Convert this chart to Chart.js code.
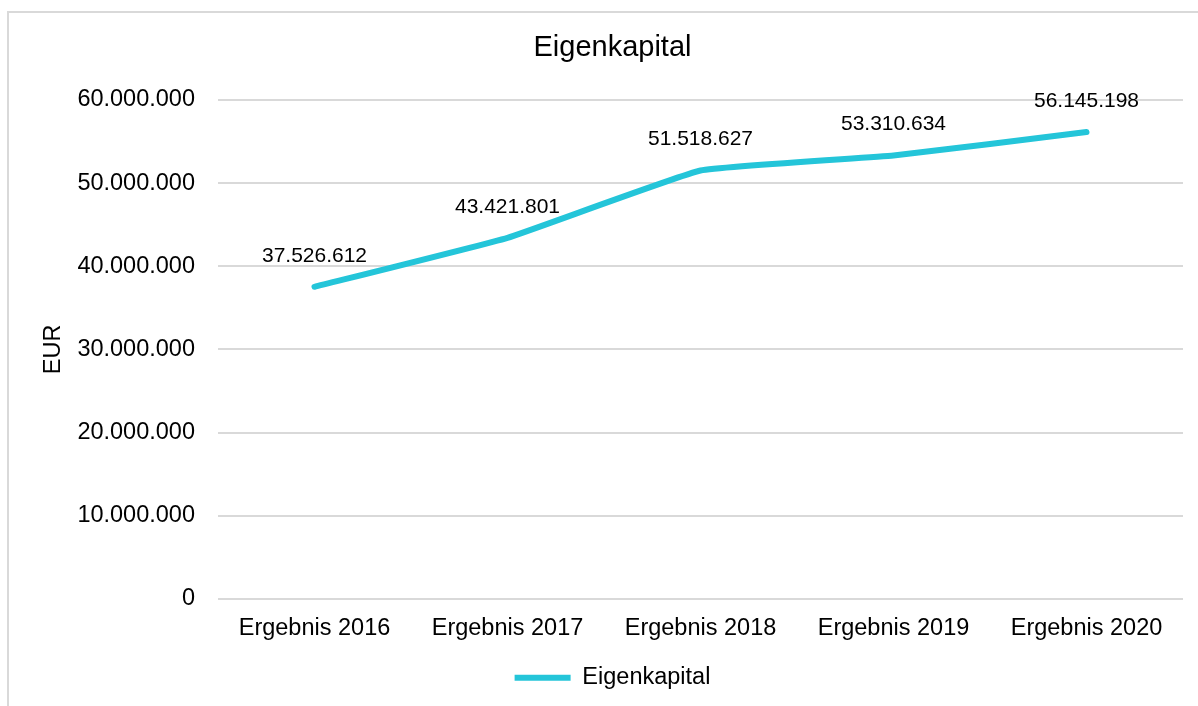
<!DOCTYPE html>
<html lang="de">
<head>
<meta charset="utf-8">
<title>Eigenkapital</title>
<script src="https://cdn.jsdelivr.net/npm/chart.js@4.4.1/dist/chart.umd.min.js"></script>
<style>
  html, body { margin: 0; padding: 0; background: #ffffff; overflow: hidden; width: 1198px; height: 706px; }
  #frame { position: absolute; left: 7px; top: 11px; width: 1300px; height: 800px; border: 2px solid #d9d9d9; box-sizing: border-box; }
  #chart { position: absolute; left: 42px; top: 0; }
</style>
</head>
<body>
<div id="frame"></div>
<canvas id="chart" width="1141" height="706"></canvas>
<script>
// Eigenkapital je Geschäftsjahr (EUR)
const categories = ['Ergebnis 2016', 'Ergebnis 2017', 'Ergebnis 2018', 'Ergebnis 2019', 'Ergebnis 2020'];
const eigenkapital = [37526612, 43421801, 51518627, 53310634, 56145198];
const yTickValues = [0, 10000000, 20000000, 30000000, 40000000, 50000000, 60000000];

const FONT = '"Liberation Sans", Arial, Helvetica, sans-serif';
const LINE_COLOR = '#24c5d9';
const TEXT_COLOR = '#000000';

// Tausenderpunkte wie im deutschen Zahlenformat
function formatDE(v) {
  return String(Math.round(v)).replace(/\B(?=(\d{3})+(?!\d))/g, '.');
}

// Wertbeschriftungen über den Punkten
const valueLabels = {
  id: 'valueLabels',
  afterDatasetsDraw(chart) {
    const { ctx } = chart;
    const meta = chart.getDatasetMeta(0);
    const values = chart.data.datasets[0].data;
    ctx.save();
    ctx.font = '21px ' + FONT;
    ctx.fillStyle = TEXT_COLOR;
    ctx.textAlign = 'center';
    ctx.textBaseline = 'middle';
    meta.data.forEach((pt, i) => {
      ctx.fillText(formatDE(values[i]), pt.x, pt.y - 31);
    });
    ctx.restore();
  }
};

new Chart(document.getElementById('chart'), {
  type: 'line',
  data: {
    labels: categories,
    datasets: [{
      label: 'Eigenkapital',
      data: eigenkapital,
      borderColor: LINE_COLOR,
      backgroundColor: LINE_COLOR,
      borderWidth: 6,
      borderCapStyle: 'round',
      borderJoinStyle: 'round',
      tension: 0.1,
      pointRadius: 0,
      pointHoverRadius: 0,
      fill: false
    }]
  },
  options: {
    responsive: false,
    animation: false,
    devicePixelRatio: 1,
    layout: { padding: { left: 0, right: 0, top: 0, bottom: 6.5 } },
    plugins: {
      title: {
        display: true,
        text: 'Eigenkapital',
        color: TEXT_COLOR,
        font: { family: FONT, size: 29, weight: 'normal', lineHeight: 1.2 },
        padding: { top: 31, bottom: 34.2 }
      },
      legend: {
        display: true,
        position: 'bottom',
        labels: {
          color: TEXT_COLOR,
          font: { family: FONT, size: 23.5 },
          usePointStyle: true,
          pointStyle: 'line',
          pointStyleWidth: 56,
          padding: 6
        }
      },
      tooltip: { enabled: false }
    },
    scales: {
      x: {
        type: 'category',
        offset: true,
        grid: { display: false, drawTicks: false },
        border: { display: false },
        ticks: {
          color: TEXT_COLOR,
          font: { family: FONT, size: 23.5 },
          padding: 16,
          maxRotation: 0,
          autoSkip: false
        },
        afterFit(scale) { scale.height = 61.25; }
      },
      y: {
        type: 'linear',
        min: 0,
        max: 60000000,
        afterBuildTicks(scale) { scale.ticks = yTickValues.map(v => ({ value: v })); },
        grid: { color: '#d9d9d9', lineWidth: 2, drawTicks: false },
        border: { display: false },
        ticks: {
          color: TEXT_COLOR,
          font: { family: FONT, size: 23.5 },
          padding: 23,
          callback: (v) => formatDE(v)
        },
        title: {
          display: true,
          text: 'EUR',
          color: TEXT_COLOR,
          font: { family: FONT, size: 23.5, lineHeight: 1 },
          padding: { top: 0, bottom: 0 }
        },
        afterFit(scale) { scale.width = 176; }
      }
    }
  },
  plugins: [valueLabels]
});
</script>
</body>
</html>
